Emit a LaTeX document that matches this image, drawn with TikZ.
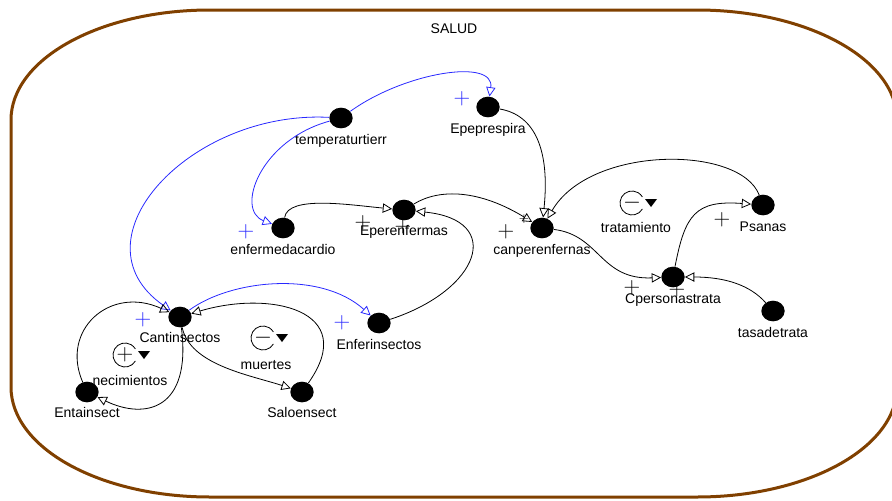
\documentclass[tikz,border=0pt]{standalone}
\usepackage{fontspec}
\setmainfont{Liberation Sans}
\usetikzlibrary{positioning}
\usetikzlibrary{arrows.meta}
\usetikzlibrary{shapes.geometric}
\definecolor{marco}{RGB}{128,64,0}
\definecolor{azul}{RGB}{40,40,255}

\begin{document}
\begin{tikzpicture}[x=0.75pt, y=0.75pt,
		punto/.style={ellipse, fill=black, minimum width=17.5pt, minimum height=15.5pt, inner sep=0pt},
		etiq/.style={font=\fontsize{10.5}{12}\selectfont, inner sep=0pt, text height=8pt, text depth=2pt},
		signo/.style={font=\fontsize{16.5}{16.5}\selectfont, inner sep=0pt},
		flecha/.style={-{Triangle[open, length=7pt, width=7pt]}, line width=0.6pt},
		infl/.style={flecha, azul},
		bucle/.style={line width=0.6pt}
	]
	\useasboundingbox (0,0) rectangle (892,-500);

	% marco
	\draw[marco, line width=2.25pt] (210,-10) -- (697,-10) .. controls (807,-10) and (897,-59) .. (897,-120)
		-- (897,-387) .. controls (897,-448) and (807,-497) .. (697,-497) -- (210,-497)
		.. controls (100,-497) and (11,-448) .. (11,-387) -- (11,-120)
		.. controls (11,-59) and (100,-10) .. (210,-10) -- cycle;
	\node[etiq] (titulo) at (454,-29) {SALUD};

	% variables
	\node[punto] (temp) at (341,-118) {};
	\node[etiq, below=4pt of temp] (temp-t) {temperaturtierr};
	\node[punto] (epe) at (488,-107) {};
	\node[etiq, below=4pt of epe] (epe-t) {Epeprespira};
	\node[punto] (enf) at (283,-228) {};
	\node[etiq, below=4pt of enf] (enf-t) {enfermedacardio};
	\node[punto] (eper) at (404,-210) {};
	\node[etiq, below=3pt of eper] (eper-t) {Eperenfermas};
	\node[punto] (canp) at (542,-228) {};
	\node[etiq, below=4pt of canp] (canp-t) {canperenfernas};
	\node[punto] (psanas) at (763,-205) {};
	\node[etiq, below=4pt of psanas] (psanas-t) {Psanas};
	\node[punto] (cper) at (673,-277) {};
	\node[etiq, below=4pt of cper] (cper-t) {Cpersonastrata};
	\node[punto] (tasa) at (773,-311) {};
	\node[etiq, below=4pt of tasa] (tasa-t) {tasadetrata};
	\node[punto] (cant) at (180,-317) {};
	\node[etiq, below=3pt of cant] (cant-t) {Cantinsectos};
	\node[punto] (enfi) at (379,-323) {};
	\node[etiq, below=4pt of enfi] (enfi-t) {Enferinsectos};
	\node[punto] (ent) at (87,-392) {};
	\node[etiq, below=3pt of ent] (ent-t) {Entainsect};
	\node[punto] (salo) at (302,-392) {};
	\node[etiq, below=3pt of salo] (salo-t) {Saloensect};

	% influencias
	\draw[infl] (temp) .. controls (405,-72) and (495,-58) .. (epe);
	\draw[infl] (temp) .. controls (260,-140) and (235,-210) .. (enf);
	\draw[infl] (temp) .. controls (190,-110) and (70,-240) .. (cant);
	\draw[infl] (cant) .. controls (230,-280) and (320,-270) .. (enfi);
	\draw[flecha] (epe) .. controls (535,-115) and (550,-150) .. (canp);
	\draw[flecha] (enf) .. controls (288,-195) and (350,-205) .. (eper);
	\draw[flecha] (eper) .. controls (440,-188) and (480,-190) .. (canp);
	\draw[flecha] (enfi) .. controls (480,-290) and (505,-220) .. (eper);
	\draw[flecha] (psanas) .. controls (740,-145) and (590,-145) .. (canp);
	\draw[flecha] (canp) .. controls (600,-235) and (600,-280) .. (cper);
	\draw[flecha] (cper) .. controls (685,-215) and (695,-200) .. (psanas);
	\draw[flecha] (tasa) .. controls (750,-285) and (725,-277) .. (cper);
	\draw[flecha] (salo) .. controls (360,-310) and (270,-290) .. (cant);
	\draw[flecha] (cant) .. controls (190,-365) and (250,-375) .. (salo);
	\draw[flecha] (ent) .. controls (60,-330) and (110,-285) .. (cant);
	\draw[flecha] (cant) .. controls (192,-410) and (145,-420) .. (ent);

	% signos
	\node[signo, azul] (epe-s) at (462,-99) {$+$};
	\node[signo, azul] (enf-s) at (246,-232) {$+$};
	\node[signo, azul] (cant-s) at (143,-320) {$+$};
	\node[signo, azul] (enfi-s) at (342,-323) {$+$};
	\node[signo] (eper-s1) at (363,-223) {$+$};
	\node[signo] (eper-s2) at (403,-227) {$+$};
	\node[signo] (canp-s1) at (506,-232) {$+$};
	\node[signo, font=\fontsize{10}{10}\selectfont] (canp-s2) at (524,-219) {$+$};
	\node[signo] (psanas-s) at (722,-220) {$+$};
	\node[signo] (cper-s1) at (632,-288) {$+$};
	\node[signo] (cper-s2) at (677,-290) {$+$};

	% bucles
	\node[signo] (trat) at (632,-203) {$-$};
	\draw[bucle] (trat.center) ++(-30:9pt) arc[start angle=-30, end angle=-330, radius=9pt];
	\fill (trat.center) ++(13,4) -- ++(12,0) -- ++(-6,-8) -- cycle;
	\node[etiq] (trat-t) at (636,-228) {tratamiento};

	\node[signo] (muer) at (263,-338) {$-$};
	\draw[bucle] (muer.center) ++(-30:9pt) arc[start angle=-30, end angle=-330, radius=9pt];
	\fill (muer.center) ++(13,4) -- ++(12,0) -- ++(-6,-8) -- cycle;
	\node[etiq] (muer-t) at (266,-365) {muertes};

	\node[signo] (naci) at (125,-355) {$+$};
	\draw[bucle] (naci.center) ++(-30:9pt) arc[start angle=-30, end angle=-330, radius=9pt];
	\fill (naci.center) ++(13,4) -- ++(12,0) -- ++(-6,-8) -- cycle;
	\node[etiq] (naci-t) at (130,-381) {necimientos};
\end{tikzpicture}
\end{document}
